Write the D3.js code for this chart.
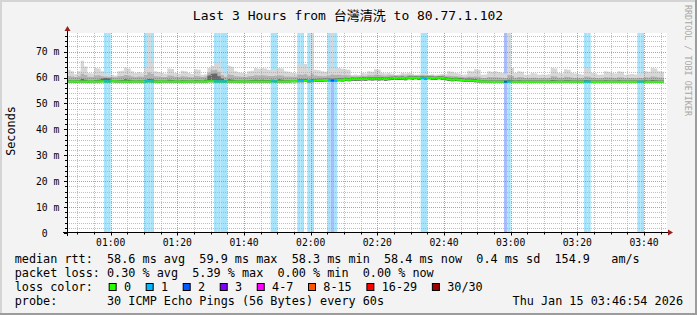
<!DOCTYPE html>
<html>
<head>
<meta charset="utf-8">
<script src="https://cdn.jsdelivr.net/npm/d3@7"></script>
<style>
  html, body { margin: 0; padding: 0; background: #f3f3f3; }
  svg { display: block; }
  text { font-family: 'DejaVu Sans Mono', 'Noto Sans CJK TC', monospace; }
</style>
</head>
<body>
<svg id="chart"></svg>
<script>
const title = 'Last 3 Hours from 台灣清洗 to 80.77.1.102'
const credit = 'RRDTOOL / TOBI OETIKER'
const yLabel = 'Seconds'

// one sample per minute, first one starts 00:47
const sampleStart = Date.UTC(2026, 0, 15, 0, 47, 0)
const windowStart = Date.UTC(2026, 0, 15, 0, 46, 54)
const windowEnd = Date.UTC(2026, 0, 15, 3, 46, 54)
const stepMs = 60000

// median rtt (ms)
const median = [
  58.5, 58.5, 58.4, 58.5, 58.5, 58.5, 58.4, 58.5, 58.5, 58.5, 58.6, 58.5, 58.5, 58.6, 58.5,
  58.5, 58.5, 58.5, 58.4, 58.5, 58.5, 58.5, 58.5, 58.5, 58.6, 58.5, 58.5, 58.4, 58.5, 58.5,
  58.5, 58.5, 58.5, 58.5, 58.4, 58.5, 58.5, 58.5, 58.5, 58.5, 58.5, 58.5, 58.6, 58.6, 58.5,
  58.5, 58.5, 58.5, 58.5, 58.5, 58.5, 58.4, 58.5, 58.5, 58.5, 58.5, 58.5, 58.5, 58.5, 58.5,
  58.5, 58.6, 58.5, 58.5, 58.5, 58.5, 58.5, 58.6, 58.6, 58.7, 58.7, 58.8, 58.6, 58.7, 58.9,
  59.0, 59.0, 59.1, 59.1, 58.9, 59.0, 59.2, 59.1, 59.3, 59.2, 59.4, 59.3, 59.4, 59.5, 59.4,
  59.6, 59.5, 59.6, 59.5, 59.6, 59.4, 59.6, 59.7, 59.8, 59.7, 59.8, 59.6, 59.9, 59.8, 59.9,
  59.8, 59.9, 59.8, 59.9, 59.8, 59.7, 59.9, 59.8, 59.6, 59.3, 59.2, 59.3, 59.2, 59.1, 58.9,
  59.0, 58.9, 58.8, 58.6, 58.5, 58.5, 58.4, 58.4, 58.4, 58.4, 58.4, 58.4, 58.4, 58.4, 58.4,
  58.4, 58.4, 58.4, 58.3, 58.4, 58.4, 58.4, 58.4, 58.4, 58.4, 58.4, 58.4, 58.4, 58.4, 58.4,
  58.4, 58.4, 58.4, 58.4, 58.4, 58.4, 58.4, 58.4, 58.3, 58.4, 58.4, 58.4, 58.4, 58.4, 58.4,
  58.4, 58.4, 58.4, 58.4, 58.4, 58.4, 58.4, 58.4, 58.4, 58.4, 58.4, 58.4, 58.4, 58.4, null
]

// smoke: lowest ping, dark core, middle band, highest ping (ms)
const smokeLo = [
  58.1, 58.1, 58.0, 58.1, 58.1, 58.1, 58.0, 58.1, 58.1, 58.1, 58.2, 58.1, 58.1, 58.2, 58.1,
  58.1, 58.1, 58.1, 58.0, 58.1, 58.1, 58.1, 58.1, 58.1, 58.2, 58.1, 58.1, 58.0, 58.1, 58.1,
  58.1, 58.1, 58.1, 58.1, 58.0, 58.1, 58.1, 58.1, 58.1, 58.1, 58.1, 58.1, 58.2, 58.2, 58.1,
  58.1, 58.1, 58.1, 58.1, 58.1, 58.1, 58.0, 58.1, 58.1, 58.1, 58.1, 58.1, 58.1, 58.1, 58.1,
  58.1, 58.2, 58.1, 58.1, 58.1, 58.1, 58.1, 58.2, 58.2, 58.2, 58.2, 58.3, 58.1, 58.2, 58.3,
  58.4, 58.4, 58.5, 58.5, 58.3, 58.4, 58.6, 58.5, 58.7, 58.6, 58.8, 58.7, 58.8, 58.9, 58.8,
  59.0, 58.9, 59.0, 58.9, 59.0, 58.8, 59.0, 59.1, 59.2, 59.1, 59.2, 59.0, 59.3, 59.2, 59.3,
  59.2, 59.3, 59.2, 59.3, 59.2, 59.1, 59.3, 59.2, 59.0, 58.7, 58.6, 58.7, 58.6, 58.5, 58.3,
  58.4, 58.3, 58.2, 58.1, 58.1, 58.1, 58.0, 58.1, 58.1, 58.1, 58.1, 58.1, 58.1, 58.1, 58.1,
  58.1, 58.1, 58.1, 58.0, 58.1, 58.1, 58.1, 58.1, 58.1, 58.1, 58.1, 58.1, 58.1, 58.1, 58.1,
  58.1, 58.1, 58.1, 58.1, 58.1, 58.1, 58.1, 58.1, 58.0, 58.1, 58.1, 58.1, 58.1, 58.1, 58.1,
  58.1, 58.1, 58.1, 58.1, 58.1, 58.1, 58.1, 58.1, 58.1, 58.1, 58.1, 58.1, 58.1, 58.1, null
]
const smokeCore = [
  59.0, 58.9, 58.9, 59.0, 59.4, 59.2, 58.9, 58.9, 59.1, 59.2, 59.6, 59.8, 59.7, 59.0, 58.9,
  59.0, 59.1, 59.3, 59.2, 59.0, 58.9, 59.0, 58.9, 59.2, 59.4, 59.3, 59.0, 58.9, 58.9, 58.9,
  59.2, 59.1, 58.9, 58.9, 59.0, 59.0, 58.9, 58.9, 59.1, 59.0, 58.9, 59.2, 60.8, 61.5, 61.6,
  60.5, 59.6, 59.0, 59.3, 59.2, 59.0, 58.9, 58.9, 58.9, 59.0, 59.1, 59.2, 59.1, 59.2, 59.1,
  59.1, 59.2, 59.1, 59.3, 59.2, 59.0, 59.0, 58.9, 59.0, 59.3, 59.3, 59.4, 59.2, 59.4, 59.4,
  59.5, 59.5, 59.6, 59.6, 59.5, 59.6, 59.8, 59.7, 59.9, 59.8, 60.0, 59.9, 60.0, 60.1, 60.0,
  60.2, 60.1, 60.2, 60.1, 60.2, 60.0, 60.2, 60.3, 60.4, 60.3, 60.4, 60.2, 60.5, 60.4, 60.5,
  60.4, 60.5, 60.4, 60.5, 60.4, 60.3, 60.5, 60.4, 60.2, 59.9, 59.8, 59.9, 59.8, 59.7, 59.5,
  59.6, 59.5, 59.4, 59.2, 59.0, 59.0, 58.9, 58.9, 58.9, 58.9, 58.9, 58.9, 59.2, 59.0, 58.9,
  59.0, 58.9, 58.9, 58.9, 58.9, 58.9, 58.9, 58.9, 58.9, 58.9, 59.1, 59.0, 58.9, 58.9, 59.0,
  59.0, 58.9, 58.9, 58.9, 58.9, 59.1, 59.0, 58.9, 58.9, 58.9, 58.9, 59.0, 58.9, 58.9, 58.9,
  59.0, 58.9, 58.9, 58.9, 58.9, 58.9, 58.9, 58.9, 59.0, 58.9, 59.1, 59.0, 58.9, 58.9, null
]
const smokeMid = [
  60.6, 60.4, 60.2, 60.5, 61.5, 61.0, 60.3, 60.2, 60.8, 60.9, 60.5, 60.4, 60.3, 60.2, 60.1,
  60.5, 60.6, 61.0, 60.8, 60.4, 60.2, 60.4, 60.3, 61.0, 62.0, 61.5, 60.5, 60.4, 60.2, 60.2,
  60.8, 60.7, 60.3, 60.2, 60.5, 60.4, 60.2, 60.1, 60.6, 60.5, 60.2, 60.4, 62.0, 62.8, 63.0,
  62.2, 61.0, 60.3, 61.2, 61.0, 60.5, 60.4, 60.3, 60.2, 60.5, 60.6, 60.9, 60.8, 60.9, 60.8,
  60.6, 60.6, 60.7, 60.9, 60.8, 60.4, 60.4, 60.3, 60.3, 61.2, 61.1, 61.3, 60.7, 61.5, 60.8,
  60.6, 60.5, 60.5, 60.8, 61.2, 61.0, 61.1, 60.9, 60.9, 60.8, 60.4, 60.5, 60.4, 60.7, 60.6,
  60.9, 60.8, 61.1, 61.0, 60.8, 60.7, 60.9, 60.8, 60.8, 60.8, 60.9, 60.8, 61.0, 60.9, 60.8,
  60.8, 61.0, 60.9, 60.8, 60.8, 60.6, 60.7, 60.8, 60.6, 60.7, 60.6, 60.5, 60.4, 60.2, 60.1,
  60.4, 60.3, 60.4, 60.3, 59.8, 59.8, 60.2, 60.1, 60.1, 60.0, 59.9, 59.8, 61.0, 60.6, 59.9,
  60.2, 60.1, 59.8, 59.8, 59.9, 59.9, 59.7, 59.8, 59.7, 59.8, 60.5, 60.4, 59.9, 59.8, 60.3,
  60.2, 59.9, 59.8, 59.8, 59.7, 60.4, 60.3, 59.9, 59.8, 59.7, 59.8, 60.1, 60.0, 59.9, 59.8,
  60.1, 60.0, 59.7, 59.8, 59.8, 59.7, 59.9, 59.8, 60.1, 60.0, 60.4, 60.3, 60.0, 59.9, null
]
const smokeTop = [
  63.0, 62.4, 61.3, 62.4, 66.5, 64.3, 61.8, 61.6, 63.7, 63.5, 62.4, 61.3, 61.0, 61.1, 60.8,
  62.4, 62.6, 63.9, 63.5, 62.4, 61.8, 62.1, 61.7, 63.7, 90.0, 66.2, 62.4, 62.1, 61.8, 61.5,
  63.5, 63.3, 61.8, 61.5, 62.6, 62.4, 61.8, 61.4, 63.2, 63.0, 61.1, 61.3, 63.7, 64.5, 65.6,
  66.0, 63.0, 61.5, 64.6, 64.2, 62.4, 62.0, 61.8, 61.5, 62.4, 62.6, 63.7, 63.4, 63.7, 63.5,
  63.0, 62.8, 63.0, 63.7, 63.5, 62.4, 62.2, 61.8, 61.6, 65.0, 64.8, 65.2, 63.0, 90.0, 63.0,
  62.8, 62.4, 62.2, 63.0, 90.0, 63.5, 63.7, 63.4, 63.2, 63.0, 61.0, 61.2, 61.0, 61.8, 61.6,
  62.4, 62.2, 63.2, 63.0, 61.8, 61.6, 61.8, 61.5, 61.1, 61.2, 61.8, 61.6, 61.8, 61.5, 61.1,
  61.2, 61.8, 61.6, 61.1, 61.3, 61.1, 61.2, 61.4, 61.3, 62.4, 62.2, 61.8, 61.6, 61.1, 61.2,
  62.6, 62.4, 63.2, 63.0, 61.1, 61.2, 62.4, 62.2, 62.4, 62.1, 61.8, 61.6, 90.0, 63.7, 61.8,
  62.4, 62.2, 61.1, 61.2, 61.8, 61.6, 61.1, 61.2, 61.1, 61.3, 63.7, 63.5, 61.8, 61.6, 63.2,
  63.0, 61.8, 61.6, 61.4, 61.2, 63.7, 63.5, 61.8, 61.6, 61.1, 61.2, 62.4, 62.2, 61.8, 61.6,
  62.4, 62.2, 61.1, 61.3, 61.4, 61.2, 61.8, 61.6, 62.4, 62.2, 63.7, 63.5, 62.4, 62.2, null
]

// [sample index, lost pings]
const lossEvents = [
  [11, 1], [12, 1], [23, 1], [24, 1], [25, 1], [44, 1], [45, 1], [46, 1], [47, 1],
  [61, 1], [62, 1], [69, 1], [70, 1], [72, 1], [73, 1], [78, 1], [79, 2], [80, 1],
  [106, 1], [107, 1], [131, 2], [132, 1], [155, 1], [156, 1], [171, 1], [172, 1]
]

const lossLegend = ['0', '1', '2', '3', '4-7', '8-15', '16-29', '30/30']
const lossColors = ['#26ff00', '#00b8ff', '#0059ff', '#7e00ff', '#ff00ff', '#ff5500', '#ff0000', '#a10000']
const lossBack = { 1: '#a7e4fb', 2: '#a9bcfc' }

const rttStats = ['58.6 ms avg', '59.9 ms max', '58.3 ms min', '58.4 ms now', '0.4 ms sd', '154.9   am/s']
const lossStats = ['0.30 % avg', '5.39 % max', '0.00 % min', '0.00 % now']
const probeText = '30 ICMP Echo Pings (56 Bytes) every 60s'
const stampText = 'Thu Jan 15 03:46:54 2026'

const width = 697
const height = 315
const margin = { top: 33, right: 30, bottom: 82, left: 67 }
const innerWidth = width - margin.left - margin.right
const innerHeight = height - margin.top - margin.bottom

const svg = d3.select('#chart')
  .attr('width', width)
  .attr('height', height)

// frame
svg.append('rect').attr('width', width).attr('height', height).attr('fill', '#f3f3f3')
svg.append('path').attr('d', `M1,${height} V1 H${width}`).attr('stroke', '#d4d4d4').attr('stroke-width', 2).attr('fill', 'none')
svg.append('path').attr('d', `M${width - 1},0 V${height - 1} H0`).attr('stroke', '#9c9c9c').attr('stroke-width', 2).attr('fill', 'none')

const g = svg.append('g')
  .attr('transform', `translate(${margin.left},${margin.top})`)

svg.append('defs').append('clipPath').attr('id', 'plot')
  .append('rect').attr('width', innerWidth).attr('height', innerHeight)

const xScale = d3.scaleUtc()
  .domain([new Date(windowStart), new Date(windowEnd)])
  .range([margin.left, margin.left + innerWidth])

const yScale = d3.scaleLinear()
  .domain([0, 77.2])
  .range([margin.top + innerHeight, margin.top])
  .clamp(true)

// g is translated, so marks inside it use scales shifted back by the margin
const gx = d => xScale(d) - margin.left
const gy = d => yScale(d) - margin.top

const rows = median.map((m, i) => ({
  t0: new Date(sampleStart + i * stepMs),
  t1: new Date(sampleStart + (i + 1) * stepMs),
  med: m, lo: smokeLo[i], core: smokeCore[i], mid: smokeMid[i], top: smokeTop[i]
}))

g.append('rect').attr('width', innerWidth).attr('height', innerHeight).attr('fill', '#ffffff')

const plot = g.append('g').attr('clip-path', 'url(#plot)')

// loss background
plot.selectAll('.lossbg')
  .data(lossEvents)
  .enter().append('rect')
  .attr('class', 'lossbg')
  .attr('x', d => gx(rows[d[0]].t0))
  .attr('width', d => gx(rows[d[0]].t1) - gx(rows[d[0]].t0))
  .attr('y', 0)
  .attr('height', innerHeight)
  .attr('fill', d => lossBack[d[1]])

// smoke
const stepPoints = key => rows.flatMap(d => [
  { t: d.t0, v: d[key], lo: d.lo },
  { t: d.t1, v: d[key], lo: d.lo }
])

const smokeBands = [['top', '#d7d7d7'], ['mid', '#b2b2b2'], ['core', '#686868']]
smokeBands.forEach(([key, color]) => {
  plot.append('path')
    .datum(stepPoints(key))
    .attr('fill', color)
    .attr('d', d3.area()
      .defined(d => d.v != null)
      .x(d => gx(d.t))
      .y0(d => gy(d.lo))
      .y1(d => gy(d.v)))
})

// median line
plot.append('path')
  .datum(stepPoints('med'))
  .attr('fill', 'none')
  .attr('stroke', lossColors[0])
  .attr('stroke-width', 2)
  .attr('d', d3.line()
    .defined(d => d.v != null)
    .x(d => gx(d.t))
    .y(d => gy(d.v)))

plot.selectAll('.lossline')
  .data(lossEvents)
  .enter().append('line')
  .attr('class', 'lossline')
  .attr('x1', d => gx(rows[d[0]].t0))
  .attr('x2', d => gx(rows[d[0]].t1))
  .attr('y1', d => gy(rows[d[0]].med))
  .attr('y2', d => gy(rows[d[0]].med))
  .attr('stroke', d => lossColors[d[1]])
  .attr('stroke-width', 2)

// grid (drawn over the data like rrdtool)
const crisp = v => Math.round(v) + 0.5
const yMajor = yScale.ticks(8)
const yMinor = yScale.ticks(40).filter(v => v % 10 !== 0)
const xMajor = xScale.ticks(d3.utcMinute.every(20))
const xMinor = xScale.ticks(d3.utcMinute.every(5)).filter(t => t.getUTCMinutes() % 20 !== 0)

const grid = g.append('g').attr('stroke-dasharray', '1,1').attr('stroke-width', 1)
grid.selectAll('.hminor').data(yMinor).enter().append('line')
  .attr('x1', 0).attr('x2', innerWidth)
  .attr('y1', d => crisp(gy(d))).attr('y2', d => crisp(gy(d)))
  .attr('stroke', 'rgba(170,170,170,0.75)')
grid.selectAll('.vminor').data(xMinor).enter().append('line')
  .attr('y1', 0).attr('y2', innerHeight)
  .attr('x1', d => crisp(gx(d))).attr('x2', d => crisp(gx(d)))
  .attr('stroke', 'rgba(170,170,170,0.75)')
grid.selectAll('.hmajor').data(yMajor.filter(v => v > 0)).enter().append('line')
  .attr('x1', 0).attr('x2', innerWidth)
  .attr('y1', d => crisp(gy(d))).attr('y2', d => crisp(gy(d)))
  .attr('stroke', 'rgba(220,90,90,0.7)')
grid.selectAll('.vmajor').data(xMajor).enter().append('line')
  .attr('y1', 0).attr('y2', innerHeight)
  .attr('x1', d => crisp(gx(d))).attr('x2', d => crisp(gx(d)))
  .attr('stroke', 'rgba(220,90,90,0.7)')

// axes
const axisY = crisp(innerHeight) - 1
g.append('line').attr('x1', -4).attr('x2', innerWidth + 2).attr('y1', axisY).attr('y2', axisY).attr('stroke', '#000')
g.append('line').attr('x1', 0.5).attr('x2', 0.5).attr('y1', innerHeight + 3).attr('y2', -4).attr('stroke', '#000')
g.append('path').attr('d', `M${innerWidth + 1},${axisY - 3} L${innerWidth + 6},${axisY} L${innerWidth + 1},${axisY + 3} Z`).attr('fill', '#9b1c1c')
g.append('path').attr('d', `M-2.5,-2 L0.5,-7 L3.5,-2 Z`).attr('fill', '#9b1c1c')

g.selectAll('.xtick').data(xScale.ticks(d3.utcMinute.every(5))).enter().append('line')
  .attr('x1', d => crisp(gx(d))).attr('x2', d => crisp(gx(d)))
  .attr('y1', axisY).attr('y2', d => axisY + (d.getUTCMinutes() % 20 === 0 ? 3 : 2))
  .attr('stroke', '#000')
g.selectAll('.ytick').data(yScale.ticks(40)).enter().append('line')
  .attr('y1', d => crisp(gy(d))).attr('y2', d => crisp(gy(d)))
  .attr('x1', d => (d % 10 === 0 ? -3 : -2)).attr('x2', 0)
  .attr('stroke', '#000')

// tick labels, in page coordinates
const tickFont = '9.7px'
svg.selectAll('text.xlabel').data(xMajor).enter().append('text')
  .attr('class', 'xlabel')
  .attr('x', d => xScale(d))
  .attr('y', margin.top + innerHeight + 13)
  .attr('text-anchor', 'middle')
  .attr('font-size', tickFont)
  .attr('fill', '#000')
  .text(d3.utcFormat('%H:%M'))

svg.selectAll('text.ylabel').data(yMajor).enter().append('text')
  .attr('class', 'ylabel')
  .attr('x', d => margin.left - (d === 0 ? 19.4 : 7.7))
  .attr('y', d => yScale(d) + 3.5)
  .attr('text-anchor', 'end')
  .attr('font-size', tickFont)
  .attr('fill', '#000')
  .text(d => (d === 0 ? '0' : `${d} m`))

// titles
svg.append('text')
  .attr('x', 348).attr('y', 19.5)
  .attr('text-anchor', 'middle')
  .attr('font-size', '13px')
  .attr('fill', '#000')
  .text(title)

svg.append('text')
  .attr('transform', 'translate(14.5,131) rotate(-90)')
  .attr('text-anchor', 'middle')
  .attr('font-size', '11.8px')
  .attr('fill', '#000')
  .text(yLabel)

svg.append('text')
  .attr('transform', 'translate(684.5,5) rotate(90)')
  .attr('font-size', '8.4px')
  .attr('fill', '#a8a8a8')
  .text(credit)

// legend
const legendX = 14.7
const charW = 7.12
const legendFont = '11.8px'
const legendRows = [
  'median rtt:  ' + rttStats.join('  '),
  'packet loss: ' + lossStats.join('  '),
  'loss color:',
  'probe:       ' + probeText
]
svg.selectAll('text.legend').data(legendRows).enter().append('text')
  .attr('class', 'legend')
  .attr('xml:space', 'preserve')
  .attr('x', legendX)
  .attr('y', (d, i) => 263 + i * 14)
  .attr('font-size', legendFont)
  .attr('fill', '#000')
  .text(d => d)

svg.append('text')
  .attr('x', 683).attr('y', 305)
  .attr('text-anchor', 'end')
  .attr('font-size', legendFont)
  .attr('fill', '#000')
  .text(stampText)

let cursor = legendX + 13 * charW + 1.4
const swatches = lossLegend.map((label, i) => {
  const item = { label, color: lossColors[i], x: cursor }
  cursor += 15.3 + label.length * charW + 14.6
  return item
})
svg.selectAll('rect.swatch').data(swatches).enter().append('rect')
  .attr('class', 'swatch')
  .attr('x', d => d.x + 0.5).attr('y', 283.5)
  .attr('width', 7).attr('height', 7)
  .attr('fill', d => d.color)
  .attr('stroke', '#000')
svg.selectAll('text.swatchlabel').data(swatches).enter().append('text')
  .attr('class', 'swatchlabel')
  .attr('x', d => d.x + 15.3).attr('y', 291)
  .attr('font-size', legendFont)
  .attr('fill', '#000')
  .text(d => d.label)
</script>
</body>
</html>
